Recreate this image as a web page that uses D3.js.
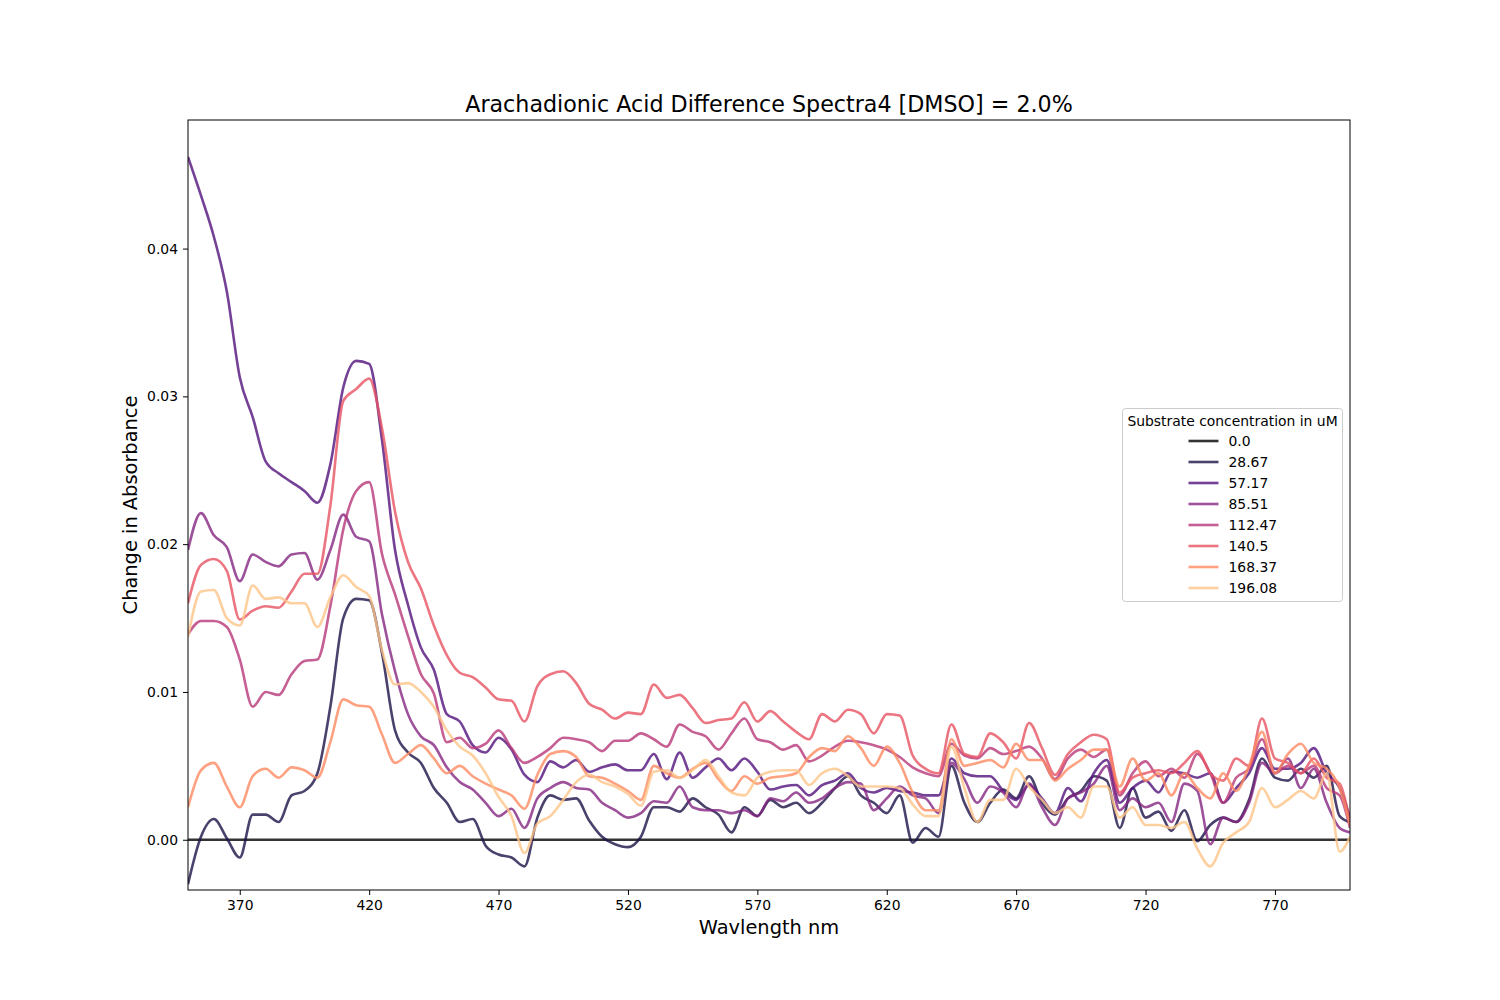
<!DOCTYPE html>
<html>
<head>
<meta charset="utf-8">
<script src="https://cdn.jsdelivr.net/npm/d3@7"></script>
<style>
  body { margin: 0; background: #fff; }
  #sketch-container { width: 1500px; height: 1000px; }
  text { font-family: "DejaVu Sans", sans-serif; }
</style>
</head>
<body>
<div id="sketch-container"></div>
<script>
// wavelength grid (nm)
const wavelengths = [
  350, 355, 360, 365, 370, 375, 380, 385, 390, 395,
  400, 405, 410, 415, 420, 425, 430, 435, 440, 445,
  450, 455, 460, 465, 470, 475, 480, 485, 490, 495,
  500, 505, 510, 515, 520, 525, 530, 535, 540, 545,
  550, 555, 560, 565, 570, 575, 580, 585, 590, 595,
  600, 605, 610, 615, 620, 625, 630, 635, 640, 645,
  650, 655, 660, 665, 670, 675, 680, 685, 690, 695,
  700, 705, 710, 715, 720, 725, 730, 735, 740, 745,
  750, 755, 760, 765, 770, 775, 780, 785, 790, 795,
  799
];

const concLabels = ["0.0", "28.67", "57.17", "85.51", "112.47", "140.5", "168.37", "196.08"];

const a000 = [
  0, 0, 0, 0, 0, 0, 0, 0, 0, 0,
  0, 0, 0, 0, 0, 0, 0, 0, 0, 0,
  0, 0, 0, 0, 0, 0, 0, 0, 0, 0,
  0, 0, 0, 0, 0, 0, 0, 0, 0, 0,
  0, 0, 0, 0, 0, 0, 0, 0, 0, 0,
  0, 0, 0, 0, 0, 0, 0, 0, 0, 0,
  0, 0, 0, 0, 0, 0, 0, 0, 0, 0,
  0, 0, 0, 0, 0, 0, 0, 0, 0, 0,
  0, 0, 0, 0, 0, 0, 0, 0, 0, 0,
  0
];

const a2867 = [
  -0.003, 0.0002, 0.0014, 0.0001, -0.0012, 0.0017, 0.0017, 0.0012, 0.003, 0.0033,
  0.0045, 0.009, 0.015, 0.0163, 0.0162, 0.0126, 0.0074, 0.0059, 0.0052, 0.0035,
  0.0025, 0.0012, 0.0014, -0.0004, -0.001, -0.0012, -0.0018, 0.0015, 0.003, 0.0027,
  0.0028, 0.0013, 0.0002, -0.0003, -0.0005, 0.0002, 0.0022, 0.0022, 0.0019, 0.0028,
  0.0022, 0.0017, 0.0005, 0.0022, 0.0016, 0.0027, 0.0022, 0.0025, 0.0018, 0.0025,
  0.0035, 0.0043, 0.003, 0.0025, 0.0018, 0.003, -0.0002, 0.0008, 0.0002, 0.005,
  0.0025, 0.0012, 0.0025, 0.0034, 0.0028, 0.0043, 0.0025, 0.0017, 0.0028, 0.0033,
  0.0043, 0.004, 0.0008, 0.0035, 0.0015, 0.0019, 0.0006, 0.002, -0.0001, 0.001,
  0.0015, 0.0012, 0.0027, 0.0055, 0.0042, 0.004, 0.0048, 0.0042, 0.005, 0.0016,
  0.0012
];

const a5717 = [
  0.0462, 0.0436, 0.0408, 0.0371, 0.0313, 0.0286, 0.0256, 0.0248, 0.0242, 0.0236,
  0.0228, 0.0254, 0.0306, 0.0324, 0.0322, 0.027, 0.0196, 0.0159, 0.013, 0.0115,
  0.0085, 0.008, 0.0064, 0.0059, 0.0069, 0.0061, 0.0044, 0.0039, 0.0053, 0.0049,
  0.0054, 0.0046, 0.0049, 0.0051, 0.0047, 0.0047, 0.0058, 0.0041, 0.0059, 0.0042,
  0.0049, 0.0055, 0.0047, 0.0055, 0.0046, 0.0034, 0.0036, 0.0037, 0.003, 0.0037,
  0.004, 0.0045, 0.0035, 0.0032, 0.0035, 0.0033, 0.0032, 0.003, 0.003, 0.0055,
  0.0045, 0.0043, 0.0043, 0.0033, 0.0027, 0.0037, 0.0028, 0.0018, 0.0035, 0.0026,
  0.0045, 0.0054, 0.0025, 0.0035, 0.004, 0.0032, 0.0046, 0.0045, 0.0042, 0.0045,
  0.0025, 0.0035, 0.0045, 0.0062, 0.0048, 0.0048, 0.0052, 0.0062, 0.0045, 0.0035,
  0.0015
];

const a8551 = [
  0.0196, 0.0221, 0.0206, 0.0198, 0.0175, 0.0193, 0.0188, 0.0185, 0.0193, 0.0194,
  0.0176, 0.0196, 0.022, 0.0205, 0.0202, 0.0152, 0.0114, 0.0085, 0.007, 0.0064,
  0.0049, 0.0039, 0.0034, 0.0025, 0.0016, 0.0021, 0.0008, 0.0028, 0.0035, 0.0039,
  0.0035, 0.0034, 0.0025, 0.002, 0.0015, 0.0018, 0.0026, 0.0025, 0.0036, 0.0022,
  0.002, 0.002, 0.0018, 0.002, 0.0016, 0.0028, 0.0026, 0.0032, 0.0025, 0.0028,
  0.0035, 0.0039, 0.0038, 0.002, 0.0028, 0.0036, 0.003, 0.0028, 0.0018, 0.0052,
  0.0041, 0.0025, 0.0036, 0.0032, 0.0022, 0.0038, 0.0022, 0.001, 0.0028, 0.0032,
  0.0038, 0.005, 0.002, 0.0028, 0.0022, 0.0025, 0.0012, 0.0038, 0.0033, -0.0003,
  0.0015, 0.0012, 0.0025, 0.0052, 0.0045, 0.0055, 0.0035, 0.0048, 0.0025, 0.0008,
  0.0005
];

const a11247 = [
  0.0139, 0.0148, 0.0148, 0.0144, 0.0122, 0.009, 0.01, 0.0098, 0.0112, 0.0121,
  0.0122, 0.0158, 0.021, 0.0236, 0.0242, 0.0193, 0.0166, 0.0138, 0.0112, 0.0099,
  0.0066, 0.0069, 0.0062, 0.0065, 0.0074, 0.0062, 0.0052, 0.0056, 0.0062, 0.0069,
  0.0068, 0.0066, 0.006, 0.0067, 0.0067, 0.0072, 0.0068, 0.0063, 0.0078, 0.0073,
  0.007, 0.0061, 0.0072, 0.0082, 0.0068, 0.0066, 0.0061, 0.0064, 0.0053, 0.0057,
  0.0063, 0.0067, 0.0066, 0.0064, 0.0061, 0.0056, 0.0049, 0.0045, 0.0043, 0.0065,
  0.0057, 0.0055, 0.0062, 0.0058, 0.006, 0.0063, 0.0055, 0.0041, 0.0055, 0.0061,
  0.0056, 0.0061, 0.003, 0.0045, 0.0053, 0.0043, 0.0048, 0.0042, 0.0058, 0.0045,
  0.0025, 0.0042, 0.0048, 0.0068, 0.0045, 0.005, 0.0045, 0.005, 0.0035, 0.003,
  0.0008
];

const a1405 = [
  0.016, 0.0186, 0.019, 0.0182, 0.0149, 0.0155, 0.0158, 0.0157, 0.0168, 0.018,
  0.018, 0.0226, 0.0297, 0.0305, 0.0312, 0.0278, 0.0222, 0.0188, 0.017, 0.0145,
  0.0125, 0.0113, 0.011, 0.0103, 0.0095, 0.0094, 0.008, 0.0104, 0.0112, 0.0114,
  0.0106, 0.0092, 0.0088, 0.0082, 0.0086, 0.0085, 0.0105, 0.0096, 0.0098, 0.0089,
  0.0079, 0.0081, 0.0082, 0.0093, 0.008, 0.0087, 0.008, 0.0073, 0.0068, 0.0085,
  0.008, 0.0088, 0.0085, 0.0072, 0.0085, 0.0084, 0.0057, 0.0048, 0.0045, 0.0078,
  0.0058, 0.0056, 0.0072, 0.0066, 0.0055, 0.0079, 0.0062, 0.0044, 0.0058, 0.0066,
  0.0071, 0.0068, 0.0032, 0.0042, 0.0045, 0.0047, 0.0045, 0.0052, 0.006, 0.0045,
  0.004, 0.0055, 0.005, 0.0082, 0.0055, 0.0052, 0.0045, 0.0055, 0.0042, 0.0038,
  0.0012
];

const a16837 = [
  0.0022, 0.0047, 0.0052, 0.0036, 0.0022, 0.0043, 0.0048, 0.0042, 0.0049, 0.0047,
  0.0042, 0.0066, 0.0095, 0.0091, 0.009, 0.0071, 0.0052, 0.0058, 0.0064, 0.0055,
  0.0045, 0.005, 0.0043, 0.0038, 0.0034, 0.003, 0.0021, 0.0044, 0.0058, 0.006,
  0.0056, 0.0043, 0.0042, 0.0038, 0.0033, 0.0027, 0.005, 0.0045, 0.0042, 0.0048,
  0.0052, 0.0041, 0.0033, 0.0043, 0.0038, 0.0042, 0.0043, 0.0045, 0.0056, 0.0062,
  0.006, 0.007, 0.0062, 0.005, 0.0063, 0.0052, 0.0032, 0.002, 0.002, 0.0068,
  0.005, 0.0052, 0.0054, 0.0049, 0.0065, 0.0054, 0.0054, 0.004, 0.0048, 0.0054,
  0.0061, 0.0061, 0.0036, 0.0055, 0.004, 0.0045, 0.003, 0.0045, 0.0035, 0.0028,
  0.0045, 0.0033, 0.005, 0.0073, 0.0045, 0.0058, 0.0065, 0.0052, 0.0048, 0.0035,
  0.001
];

const a19608 = [
  0.0137, 0.0168, 0.0169, 0.015, 0.0145, 0.0172, 0.0163, 0.0164, 0.016, 0.016,
  0.0144, 0.0164, 0.0179, 0.0171, 0.0165, 0.0128, 0.0105, 0.0106, 0.01, 0.009,
  0.0074, 0.0063, 0.0057, 0.0045, 0.0029, 0.0016, -0.0009, 0.0011, 0.0016, 0.0027,
  0.0039, 0.0044, 0.0039, 0.0036, 0.0031, 0.0023, 0.0046, 0.0047, 0.0042, 0.0047,
  0.0054, 0.0043, 0.0032, 0.003, 0.0042, 0.0046, 0.0047, 0.0047, 0.0037, 0.0045,
  0.0048, 0.0043, 0.0036, 0.0036, 0.0036, 0.0035, 0.0024, 0.0016, 0.0016, 0.0063,
  0.0035, 0.0012, 0.0027, 0.0027, 0.0048, 0.0036, 0.0027, 0.0018, 0.0022, 0.0015,
  0.0036, 0.0036, 0.0015, 0.0022, 0.001, 0.001, 0.0008, 0.0012, -0.0006, -0.0018,
  -0.0002, 0.0005, 0.0012, 0.0035, 0.0022, 0.0027, 0.0033, 0.0028, 0.0045, -0.0008,
  0.0002
];

const seriesValues = [a000, a2867, a5717, a8551, a11247, a1405, a16837, a19608];

const xTicks = [370, 420, 470, 520, 570, 620, 670, 720, 770];
const yTicks = [0.00, 0.01, 0.02, 0.03, 0.04];

document.addEventListener("DOMContentLoaded", function () {
    const width = 1500;
    const height = 1000;
    const plot = { left: 188, top: 120, right: 1350, bottom: 890 };

    const svg = d3.select("#sketch-container")
        .append("svg")
        .attr("width", width)
        .attr("height", height);

    const x = d3.scaleLinear().domain([350, 799]).range([plot.left, plot.right]);
    const y = d3.scaleLinear().domain([-0.0034, 0.0487]).range([plot.bottom, plot.top]);
    const color = i => d3.interpolateMagma(i / 8);

    svg.append("defs").append("clipPath").attr("id", "plot-clip")
        .append("rect")
        .attr("x", plot.left).attr("y", plot.top)
        .attr("width", plot.right - plot.left).attr("height", plot.bottom - plot.top);

    const line = d3.line()
        .x(d => x(d[0]))
        .y(d => y(d[1]))
        .curve(d3.curveMonotoneX);

    const lines = svg.append("g").attr("clip-path", "url(#plot-clip)");
    seriesValues.forEach((vals, i) => {
        const pts = wavelengths.map((w, j) => [w, vals[j]]);
        lines.append("path")
            .datum(pts)
            .attr("fill", "none")
            .attr("stroke", color(i))
            .attr("stroke-opacity", 0.8)
            .attr("stroke-width", 2.6)
            .attr("stroke-linejoin", "round")
            .attr("d", line);
    });

    // axes
    const xAxis = svg.append("g")
        .attr("transform", `translate(0,${plot.bottom})`)
        .call(d3.axisBottom(x).tickValues(xTicks).tickSize(5).tickPadding(5));
    const yAxis = svg.append("g")
        .attr("transform", `translate(${plot.left},0)`)
        .call(d3.axisLeft(y).tickValues(yTicks).tickFormat(d3.format(".2f")).tickSize(5).tickPadding(5));

    [xAxis, yAxis].forEach(g => {
        g.select(".domain").remove();
        g.selectAll("line").attr("stroke", "#000").attr("stroke-width", 1);
        g.selectAll("text")
            .attr("fill", "#000")
            .style("font-family", "'DejaVu Sans', sans-serif")
            .style("font-size", "13.9px");
    });

    // frame
    svg.append("rect")
        .attr("x", plot.left).attr("y", plot.top)
        .attr("width", plot.right - plot.left).attr("height", plot.bottom - plot.top)
        .attr("fill", "none").attr("stroke", "#000").attr("stroke-width", 1);

    // titles
    svg.append("text")
        .attr("x", (plot.left + plot.right) / 2).attr("y", 112)
        .attr("text-anchor", "middle")
        .style("font-size", "22.2px")
        .text("Arachadionic Acid Difference Spectra4 [DMSO] = 2.0%");

    svg.append("text")
        .attr("x", (plot.left + plot.right) / 2).attr("y", 934)
        .attr("text-anchor", "middle")
        .style("font-size", "19.4px")
        .text("Wavlength nm");

    svg.append("text")
        .attr("transform", `translate(137,${(plot.top + plot.bottom) / 2}) rotate(-90)`)
        .attr("text-anchor", "middle")
        .style("font-size", "19.4px")
        .text("Change in Absorbance");

    // legend
    const legend = svg.append("g").attr("transform", "translate(1122.5,408.5)");
    legend.append("rect")
        .attr("width", 220).attr("height", 193).attr("rx", 3)
        .attr("fill", "#fff").attr("fill-opacity", 0.8)
        .attr("stroke", "#ccc").attr("stroke-width", 1);
    legend.append("text")
        .attr("x", 110).attr("y", 17)
        .attr("text-anchor", "middle")
        .style("font-size", "13.9px")
        .text("Substrate concentration in uM");

    concLabels.forEach((lab, i) => {
        const ly = 32.5 + i * 21;
        legend.append("line")
            .attr("x1", 66).attr("x2", 96).attr("y1", ly).attr("y2", ly)
            .attr("stroke", color(i)).attr("stroke-opacity", 0.8).attr("stroke-width", 2.6);
        legend.append("text")
            .attr("x", 106).attr("y", ly).attr("dy", "0.35em")
            .style("font-size", "13.9px")
            .text(lab);
    });
});
</script>
</body>
</html>
